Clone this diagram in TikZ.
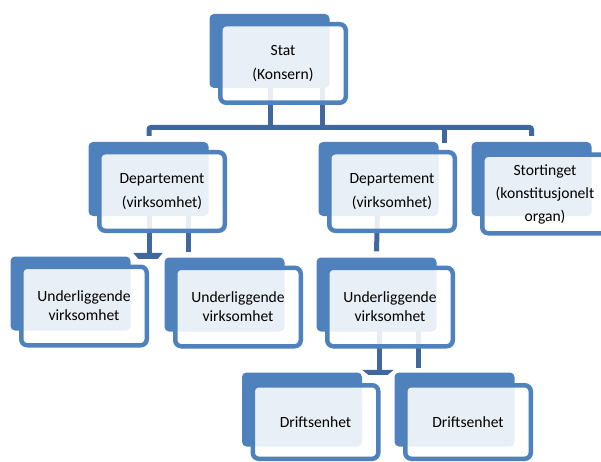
\documentclass[tikz,border=0pt]{standalone}
\usepackage{fontspec}
\setmainfont{Carlito}
\usetikzlibrary{calc}
\definecolor{boxblue}{HTML}{4F81BD}
\definecolor{connblue}{HTML}{41689E}
\pgfdeclarelayer{connlayer}
\pgfdeclarelayer{backlayer}
\pgfsetlayers{connlayer,backlayer,main}
\begin{document}
\begin{tikzpicture}[x=1pt,y=-1pt,
  front/.style={draw=boxblue, line width=4.5pt, fill=white, fill opacity=0.88,
    draw opacity=1, text opacity=1, rounded corners=6pt,
    minimum width=125.5pt, minimum height=78.5pt, inner sep=0pt, align=center,
    font=\fontsize{15.6}{24}\selectfont},
  tight/.style={font=\fontsize{15.6}{18.8}\selectfont},
  backbox/.style={fill=boxblue, rounded corners=4.5pt, minimum width=120pt,
    minimum height=74pt, inner sep=0pt},
  conn/.style={draw=connblue, line width=5pt},
  connfill/.style={fill=connblue}]
\useasboundingbox (0,0) rectangle (601,462);

% front boxes
\node[front] (stat)  at (283,63.5)  {Stat\\(Konsern)};
\node[front] (deptL) at (162,191.5) {Departement\\(virksomhet)};
\node[front] (deptR) at (392,191.5) {Departement\\(virksomhet)};
\node[front, font=\fontsize{15.6}{23}\selectfont] (stort) at (545,194) {Stortinget\\(konstitusjonelt\\organ)};
\node[front, tight] (und1) at (84,306)  {Underliggende\\virksomhet};
\node[front, tight] (und2) at (238,307) {Underliggende\\virksomhet};
\node[front, tight] (und3) at (390,307) {Underliggende\\virksomhet};
\node[front, minimum height=73.5pt] (drift1) at (315.5,422) {Driftsenhet};
\node[front, minimum height=73.5pt] (drift2) at (468,422)   {Driftsenhet};

% back (shadow) boxes
\begin{pgfonlayer}{backlayer}
\foreach \n in {stat,deptL,deptR,und1,und2,und3,drift1,drift2}{
  \node[backbox] (\n b) at ($(\n.center)+(-13.5,-12.5)$) {};
}
\node[backbox] (stortb) at ($(stort.center)+(-13.5,-15)$) {};
\end{pgfonlayer}

% connectors
\begin{pgfonlayer}{connlayer}
\coordinate (bus) at (0,127.5);
\draw[conn] ($(stat.center)+(-13,0)$) -- ($(stat.center)+(-13,64)$);
\draw[conn] ($(stat.center)+(39,0)$) -- ($(stat.center)+(39,64)$);
\draw[conn, rounded corners=2pt] ($(deptLb.north)+(0.5,-6)$) |- (bus -| stortb.north) -- ($(stortb.north)+(0,-6)$);
\draw[conn] ($(deptR.center)+(52.5,-64)$) -- ($(deptR.center)+(52.5,-48.5)$);
% Departement (left) to its two units
\draw[conn] ($(deptL.center)+(-13,0)$) -- ($(deptL.center)+(-13,64)$);
\draw[conn] ($(deptL.center)+(26.5,0)$) -- ($(deptL.center)+(26.5,60.5)$);
\fill[connfill] ($(und1b.north east)+(2.5,-3.5)$) -- ($(und2b.north west)+(-1.5,-4.5)$)
  -- ($(und2b.north west)+(-6.5,1.5)$) -- ($(und1b.north east)+(7.5,2.5)$) -- cycle;
% Departement (right) to its unit
\draw[conn] ($(deptR.center)+(-14,0)$) -- ($(und3b.north)+(0,-6)$);
% Underliggende (middle) to the two Driftsenhet
\draw[conn] ($(und3.center)+(-10.5,0)$) -- ($(und3.center)+(-10.5,65)$);
\draw[conn] ($(und3.center)+(28,0)$) -- ($(und3.center)+(28,61)$);
\fill[connfill] ($(drift1b.north east)+(0,-2.5)$) -- ($(drift2b.north west)+(-0.5,-2.5)$)
  -- ($(drift2b.north west)+(-6.5,2.5)$) -- ($(drift1b.north east)+(6,2.5)$) -- cycle;
\end{pgfonlayer}
\end{tikzpicture}
\end{document}
